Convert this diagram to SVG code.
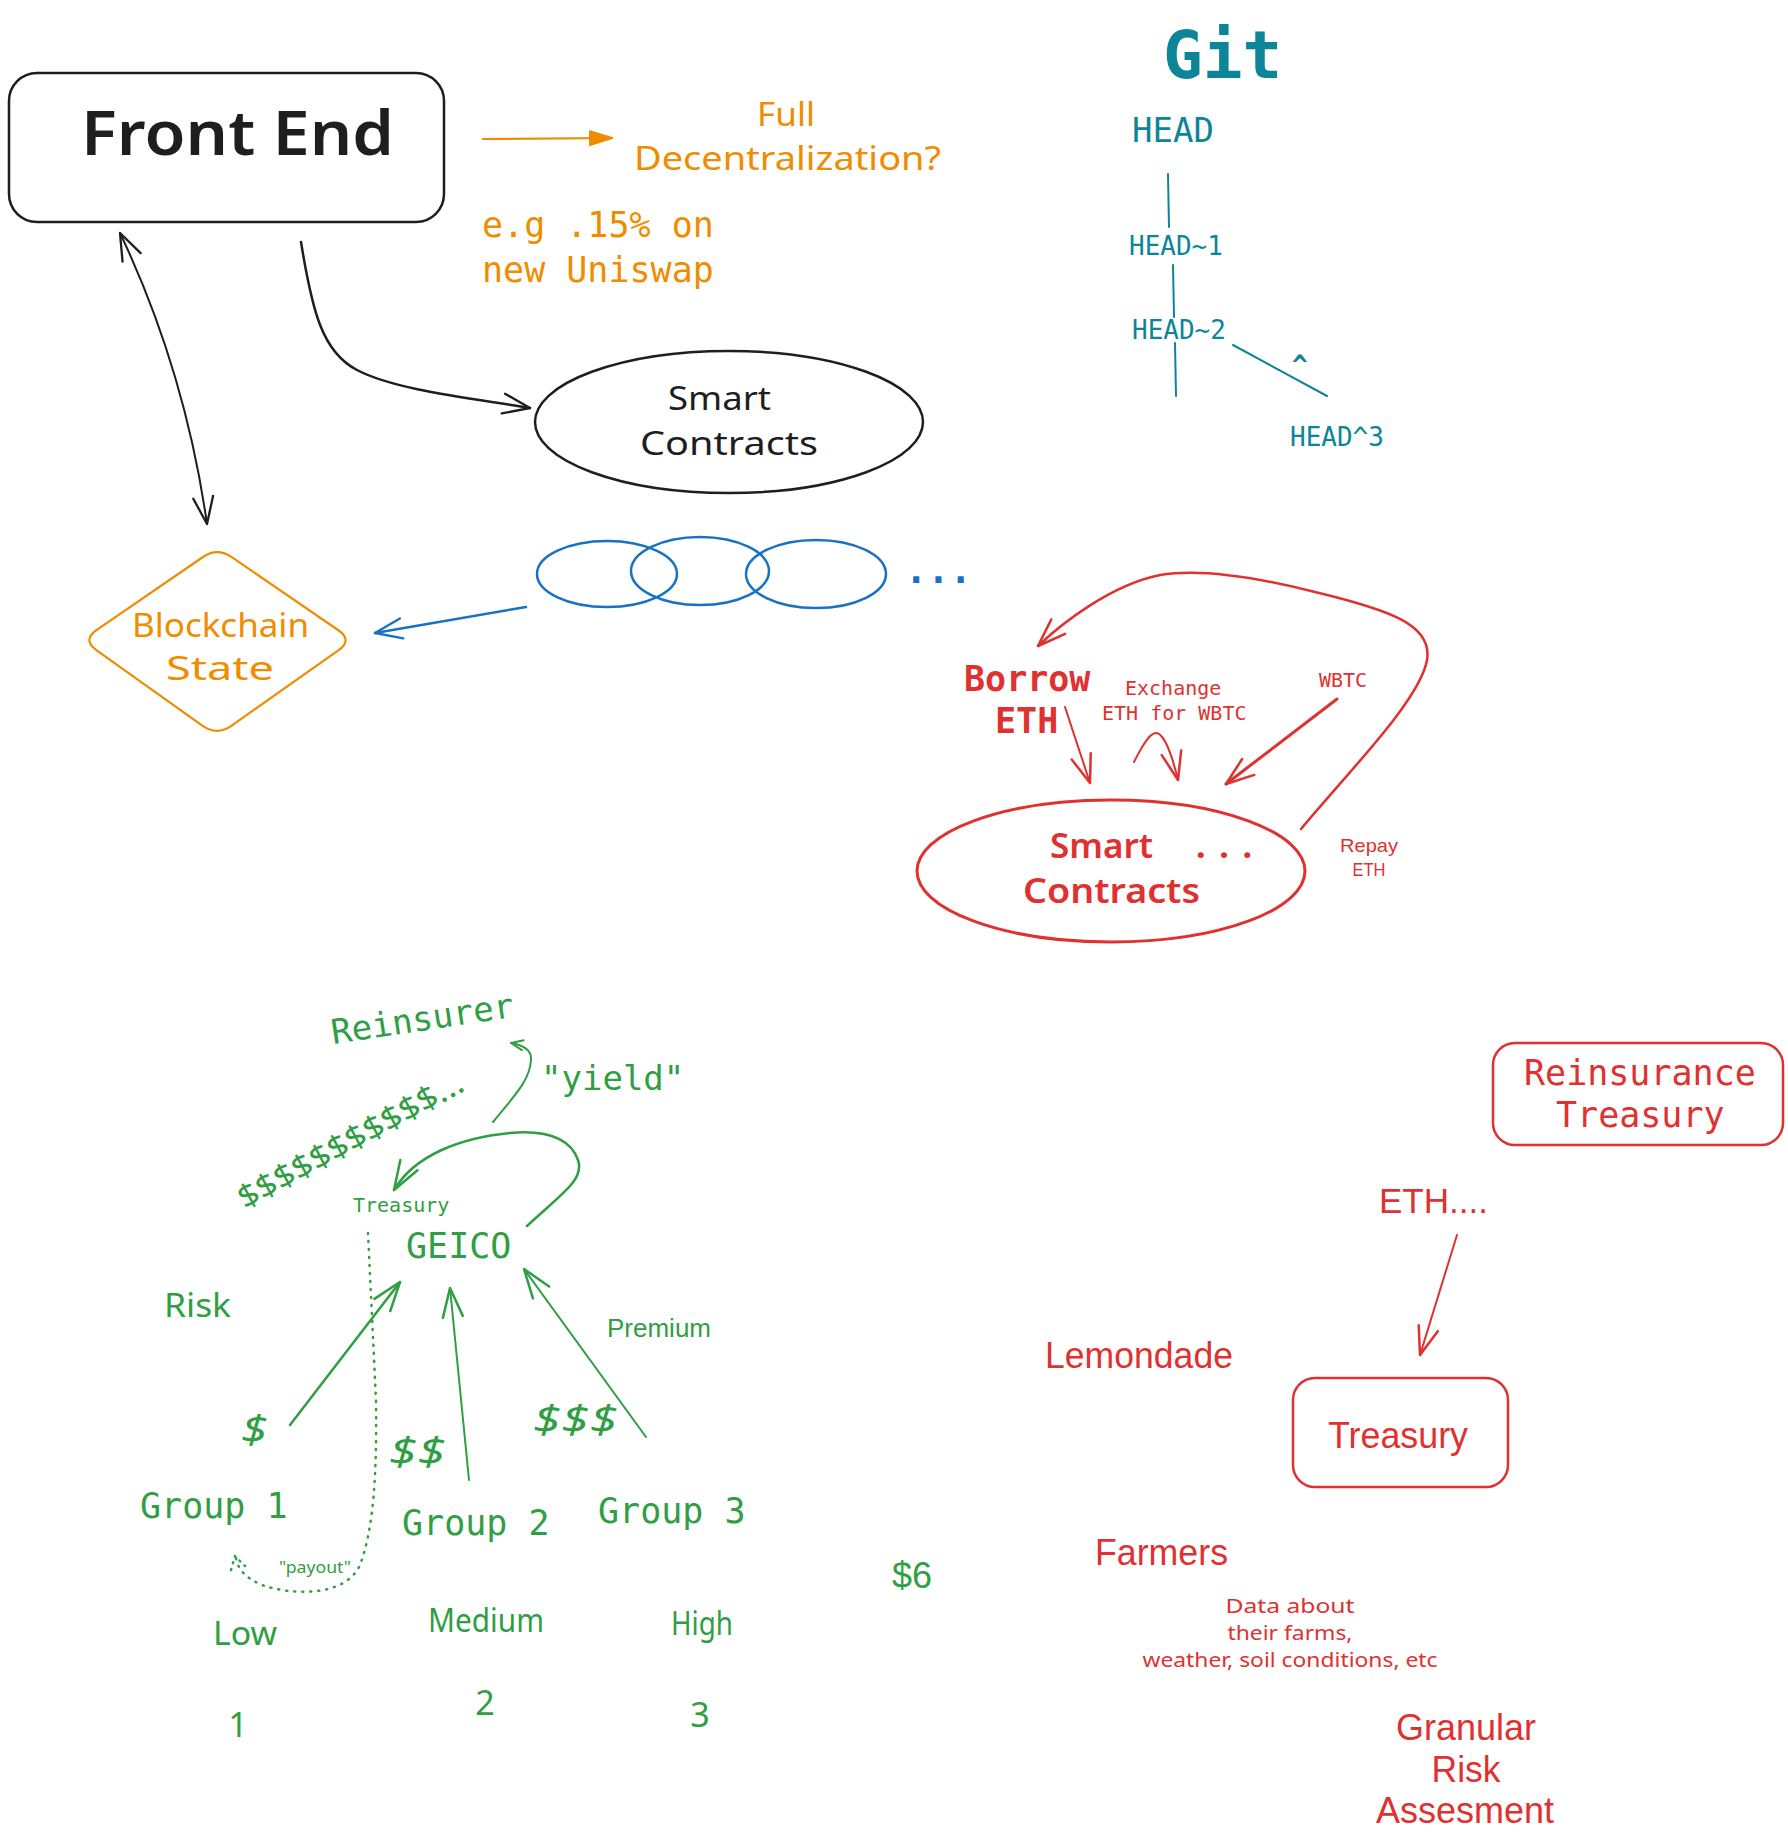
<svg xmlns="http://www.w3.org/2000/svg" width="1788" height="1842" viewBox="0 0 1788 1842">
<defs>
<style>
.hand{font-family:"Noto Sans","DejaVu Sans",sans-serif;}
.mono{font-family:"DejaVu Sans Mono","Liberation Mono",monospace;}
.sans{font-family:"Liberation Sans",Arial,sans-serif;}
.k{fill:#1e1e1e;} .o{fill:#f08c00;} .t{fill:#0c8599;} .b{fill:#1971c2;} .r{fill:#e03131;} .g{fill:#2f9e44;}
.line{fill:none;stroke-linecap:round;stroke-linejoin:round;}
.sk{stroke:#1e1e1e;} .so{stroke:#f08c00;} .st{stroke:#0c8599;} .sb{stroke:#1971c2;} .sr{stroke:#e03131;} .sg{stroke:#2f9e44;}
</style>
<marker id="ah-k" viewBox="-30 -14 34 28" refX="0" refY="0" markerWidth="34" markerHeight="28" markerUnits="userSpaceOnUse" orient="auto-start-reverse"><path d="M-27,-10 L0,0 L-27,10" fill="none" stroke="#1e1e1e" stroke-width="2.3" stroke-linecap="round" stroke-linejoin="round"/></marker>
<marker id="ah-b" viewBox="-30 -14 34 28" refX="0" refY="0" markerWidth="34" markerHeight="28" markerUnits="userSpaceOnUse" orient="auto"><path d="M-27,-10 L0,0 L-27,10" fill="none" stroke="#1971c2" stroke-width="2.3" stroke-linecap="round" stroke-linejoin="round"/></marker>
<marker id="ah-r" viewBox="-30 -14 34 28" refX="0" refY="0" markerWidth="34" markerHeight="28" markerUnits="userSpaceOnUse" orient="auto"><path d="M-28,-10 L0,0 L-28,10" fill="none" stroke="#e03131" stroke-width="2.5" stroke-linecap="round" stroke-linejoin="round"/></marker>
<marker id="ah-g" viewBox="-32 -14 36 28" refX="0" refY="0" markerWidth="36" markerHeight="28" markerUnits="userSpaceOnUse" orient="auto"><path d="M-29,-10 L0,0 L-29,10" fill="none" stroke="#2f9e44" stroke-width="2.5" stroke-linecap="round" stroke-linejoin="round"/></marker>
<marker id="ah-gs" viewBox="-16 -8 18 16" refX="0" refY="0" markerWidth="18" markerHeight="16" markerUnits="userSpaceOnUse" orient="auto"><path d="M-12,-5 L0,0 L-12,5" fill="none" stroke="#2f9e44" stroke-width="2" stroke-linecap="round" stroke-linejoin="round"/></marker>
<marker id="tri-o" viewBox="-26 -10 28 20" refX="0" refY="0" markerWidth="28" markerHeight="20" markerUnits="userSpaceOnUse" orient="auto"><path d="M-22,-7 L0,0 L-22,7 Z" fill="#f08c00" stroke="#f08c00" stroke-width="2" stroke-linejoin="round"/></marker>
</defs>
<rect width="1788" height="1842" fill="#ffffff"/>

<g id="connectors">
  <line class="line so" stroke-width="2.2" x1="483" y1="139" x2="612" y2="138" marker-end="url(#tri-o)"/>
  <path class="line sk" stroke-width="2.5" d="M301,242 C312,310 322,352 357,370 C395,390 470,398 530,408" marker-end="url(#ah-k)"/>
  <path class="line sk" stroke-width="2" d="M120,233 Q185,370 207,524" marker-start="url(#ah-k)" marker-end="url(#ah-k)"/>
  <line class="line sb" stroke-width="2.5" x1="526" y1="607" x2="375" y2="633" marker-end="url(#ah-b)"/>
  <line class="line st" stroke-width="2" x1="1168" y1="174" x2="1169" y2="227"/>
  <line class="line st" stroke-width="2" x1="1173" y1="265" x2="1174" y2="317"/>
  <line class="line st" stroke-width="2" x1="1175" y1="343" x2="1176" y2="396"/>
  <line class="line st" stroke-width="2" x1="1233" y1="345" x2="1327" y2="396"/>
  <line class="line sr" stroke-width="2" x1="1065" y1="707" x2="1090" y2="783" marker-end="url(#ah-r)"/>
  <path class="line sr" stroke-width="2" d="M1134,762 C1145,740 1151,733 1156,733 C1164,733 1172,755 1178,780" marker-end="url(#ah-r)"/>
  <line class="line sr" stroke-width="3" x1="1337" y1="699" x2="1226" y2="784" marker-end="url(#ah-r)"/>
  <path class="line sr" stroke-width="2.5" d="M1301,829 C1350,770 1420,700 1427,660 C1433,625 1390,610 1315,592 C1260,578 1200,568 1160,575 C1110,585 1060,625 1038,646" marker-end="url(#ah-r)"/>
  <path class="line sg" stroke-width="2" d="M493,1122 C515,1095 530,1080 531,1060 C532,1050 522,1045 511,1043" marker-end="url(#ah-gs)"/>
  <path class="line sg" stroke-width="2.5" d="M527,1226 C560,1195 585,1180 578,1160 C570,1138 545,1130 510,1133 C460,1138 415,1155 394,1190" marker-end="url(#ah-g)"/>
  <line class="line sg" stroke-width="2.5" x1="290" y1="1425" x2="400" y2="1282" marker-end="url(#ah-g)"/>
  <line class="line sg" stroke-width="2" x1="469" y1="1480" x2="450" y2="1288" marker-end="url(#ah-g)"/>
  <line class="line sg" stroke-width="2" x1="646" y1="1437" x2="524" y2="1269" marker-end="url(#ah-g)"/>
  <path class="line sg" stroke-width="2.5" stroke-dasharray="1 7" d="M368,1233 L376,1400 C377,1480 373,1530 360,1565 C345,1598 290,1595 262,1585 C246,1578 238,1570 236,1558"/>
  <path class="line sg" stroke-width="2.5" stroke-dasharray="1 6" d="M231,1570 L235,1556 L245,1566"/>
  <line class="line sr" stroke-width="2" x1="1457" y1="1235" x2="1420" y2="1355" marker-end="url(#ah-r)"/>
</g>

<g id="front-end">
  <rect x="9" y="73" width="435" height="149" rx="28" fill="none" stroke="#1e1e1e" stroke-width="2.5"/>
  <text class="hand k" x="81" y="155" font-size="62" font-weight="600" textLength="313" lengthAdjust="spacingAndGlyphs">Front End</text>
</g>

<g id="full-decentralization">
  <text class="hand o" x="757" y="126" font-size="32" textLength="58" lengthAdjust="spacingAndGlyphs">Full</text>
  <text class="hand o" x="634" y="170" font-size="32" textLength="307" lengthAdjust="spacingAndGlyphs">Decentralization?</text>
</g>

<g id="uniswap-note">
  <text class="mono o" x="482" y="237" font-size="35">e.g .15% on</text>
  <text class="mono o" x="482" y="282" font-size="35">new Uniswap</text>
</g>

<g id="smart-contracts">
  <ellipse cx="729" cy="422" rx="194" ry="71" fill="none" stroke="#1e1e1e" stroke-width="2.5"/>
  <text class="hand k" x="668" y="410" font-size="32" textLength="103" lengthAdjust="spacingAndGlyphs">Smart</text>
  <text class="hand k" x="640" y="455" font-size="32" textLength="178" lengthAdjust="spacingAndGlyphs">Contracts</text>
</g>

<g id="blockchain-state">
  <path d="M231.8,557.2 L338,630 Q353,640 338.3,650.4 L231.7,725.6 Q217,736 202.3,725.6 L96.7,650.4 Q82,640 96.8,629.8 L203,557 Q217,547 231.8,557.2 Z" fill="none" stroke="#f08c00" stroke-width="2.2"/>
  <text class="hand o" x="132" y="637" font-size="32" textLength="177" lengthAdjust="spacingAndGlyphs">Blockchain</text>
  <text class="hand o" x="166" y="680" font-size="32" textLength="108" lengthAdjust="spacingAndGlyphs">State</text>
</g>

<g id="chain-links">
  <ellipse cx="607" cy="574" rx="70" ry="33" fill="none" stroke="#1971c2" stroke-width="2.5"/>
  <ellipse cx="700" cy="571" rx="69" ry="34" fill="none" stroke="#1971c2" stroke-width="2.5"/>
  <ellipse cx="816" cy="574" rx="70" ry="34" fill="none" stroke="#1971c2" stroke-width="2.5"/>
  <text class="mono b" x="905" y="583" font-size="37" font-weight="bold">...</text>
</g>

<g id="git">
  <text class="mono t" x="1163" y="78" font-size="66" font-weight="bold">Git</text>
  <text class="mono t" x="1132" y="142" font-size="34">HEAD</text>
  <text class="mono t" x="1129" y="255" font-size="26">HEAD~1</text>
  <text class="mono t" x="1132" y="339" font-size="26">HEAD~2</text>
  <text class="mono t" x="1292" y="374" font-size="26" font-weight="bold">^</text>
  <text class="mono t" x="1290" y="446" font-size="26">HEAD^3</text>
</g>

<g id="flash-loan">
  <text class="mono r" x="964" y="691" font-size="35" font-weight="bold">Borrow</text>
  <text class="mono r" x="995" y="733" font-size="35" font-weight="bold">ETH</text>
  <text class="mono r" x="1125" y="695" font-size="20">Exchange</text>
  <text class="mono r" x="1102" y="720" font-size="20">ETH for WBTC</text>
  <text class="mono r" x="1319" y="687" font-size="20">WBTC</text>
  <text class="sans r" x="1369" y="852" font-size="19" text-anchor="middle" textLength="58" lengthAdjust="spacingAndGlyphs">Repay</text>
  <text class="sans r" x="1369" y="876" font-size="19" text-anchor="middle" textLength="33" lengthAdjust="spacingAndGlyphs">ETH</text>
</g>

<g id="smart-contracts-red">
  <ellipse cx="1111" cy="871" rx="194" ry="71" fill="none" stroke="#e03131" stroke-width="3"/>
  <text class="hand r" x="1050" y="858" font-size="34" font-weight="600" textLength="103" lengthAdjust="spacingAndGlyphs">Smart</text>
  <text class="hand r" x="1196" y="858" font-size="34" font-weight="bold" textLength="56" lengthAdjust="spacing">...</text>
  <text class="hand r" x="1023" y="903" font-size="34" font-weight="600" textLength="177" lengthAdjust="spacingAndGlyphs">Contracts</text>
</g>

<g id="insurance">
  <text class="mono g" transform="translate(333,1044) rotate(-8.5)" font-size="34">Reinsurer</text>
  <text class="mono g" x="541" y="1090" font-size="34">"yield"</text>
  <text class="hand g" transform="translate(245,1210) rotate(-28.5)" font-size="32" textLength="252" lengthAdjust="spacingAndGlyphs">$$$$$$$$$$$...</text>
  <text class="mono g" x="353" y="1212" font-size="20">Treasury</text>
  <text class="mono g" x="406" y="1258" font-size="35">GEICO</text>
  <text class="hand g" x="164" y="1317" font-size="32" textLength="67" lengthAdjust="spacingAndGlyphs">Risk</text>
  <text class="sans g" x="607" y="1337" font-size="26">Premium</text>
  <text class="hand g" x="241" y="1443" font-size="38" font-style="italic" textLength="27" lengthAdjust="spacingAndGlyphs">$</text>
  <text class="hand g" x="389" y="1465" font-size="38" font-style="italic" textLength="57" lengthAdjust="spacingAndGlyphs">$$</text>
  <text class="hand g" x="533" y="1433" font-size="38" font-style="italic" textLength="85" lengthAdjust="spacingAndGlyphs">$$$</text>
  <text class="mono g" x="140" y="1518" font-size="35">Group 1</text>
  <text class="mono g" x="402" y="1535" font-size="35">Group 2</text>
  <text class="mono g" x="598" y="1523" font-size="35">Group 3</text>
  <text class="hand g" x="279" y="1573" font-size="16" textLength="72" lengthAdjust="spacingAndGlyphs">"payout"</text>
  <text class="sans g" x="892" y="1588" font-size="36">$6</text>
  <text class="hand g" x="213" y="1645" font-size="32" textLength="64" lengthAdjust="spacingAndGlyphs">Low</text>
  <text class="hand g" x="428" y="1632" font-size="32" textLength="116" lengthAdjust="spacingAndGlyphs">Medium</text>
  <text class="hand g" x="671" y="1635" font-size="32" textLength="62" lengthAdjust="spacingAndGlyphs">High</text>
  <text class="hand g" x="238" y="1737" font-size="34" text-anchor="middle">1</text>
  <text class="hand g" x="485" y="1715" font-size="34" text-anchor="middle">2</text>
  <text class="hand g" x="700" y="1727" font-size="34" text-anchor="middle">3</text>
</g>

<g id="reinsurance-treasury">
  <rect x="1493" y="1043" width="290" height="102" rx="22" fill="none" stroke="#e03131" stroke-width="2.5"/>
  <text class="mono r" x="1524" y="1085" font-size="35">Reinsurance</text>
  <text class="mono r" x="1556" y="1127" font-size="35">Treasury</text>
</g>

<g id="lemonade">
  <text class="sans r" x="1379" y="1213" font-size="35" textLength="109" lengthAdjust="spacingAndGlyphs">ETH....</text>
  <text class="sans r" x="1045" y="1368" font-size="36" textLength="188" lengthAdjust="spacingAndGlyphs">Lemondade</text>
</g>

<g id="treasury">
  <rect x="1293" y="1378" width="215" height="109" rx="22" fill="none" stroke="#e03131" stroke-width="2.5"/>
  <text class="sans r" x="1328" y="1448" font-size="36" textLength="140" lengthAdjust="spacingAndGlyphs">Treasury</text>
</g>

<g id="farmers">
  <text class="sans r" x="1095" y="1565" font-size="36" textLength="133" lengthAdjust="spacingAndGlyphs">Farmers</text>
  <text class="hand r" x="1290" y="1613" font-size="19" text-anchor="middle" textLength="129" lengthAdjust="spacingAndGlyphs">Data about</text>
  <text class="hand r" x="1290" y="1640" font-size="19" text-anchor="middle" textLength="125" lengthAdjust="spacingAndGlyphs">their farms,</text>
  <text class="hand r" x="1290" y="1667" font-size="19" text-anchor="middle" textLength="295" lengthAdjust="spacingAndGlyphs">weather, soil conditions, etc</text>
</g>

<g id="granular-risk">
  <text class="sans r" x="1466" y="1740" font-size="36" text-anchor="middle" textLength="140" lengthAdjust="spacingAndGlyphs">Granular</text>
  <text class="sans r" x="1466" y="1782" font-size="36" text-anchor="middle" textLength="69" lengthAdjust="spacingAndGlyphs">Risk</text>
  <text class="sans r" x="1465" y="1823" font-size="36" text-anchor="middle" textLength="178" lengthAdjust="spacingAndGlyphs">Assesment</text>
</g>
</svg>
